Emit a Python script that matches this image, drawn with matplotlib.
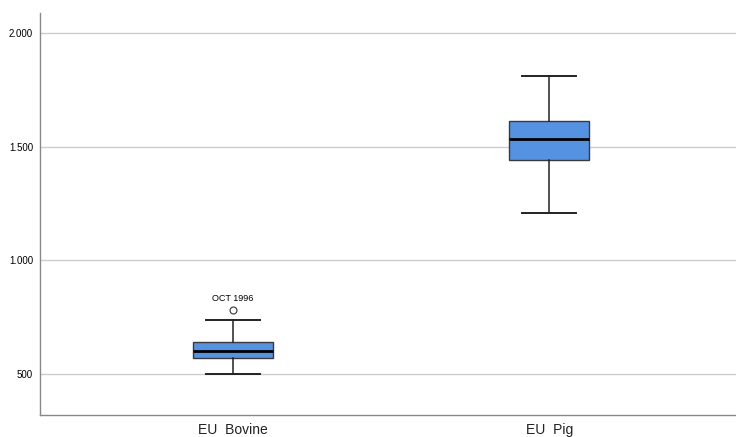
import matplotlib.pyplot as plt
import matplotlib.ticker as mticker

plt.rcParams['font.family'] = ['Liberation Sans', 'DejaVu Sans']

# summary stats per group
groups = ['EU  Bovine', 'EU  Pig']
whislo = [500, 1209]
q1 = [570, 1442]
med = [601, 1534]
q3 = [641, 1613]
whishi = [737, 1811]
fliers = [[781], []]
flier_labels = [['OCT 1996'], []]

stats = []
for i in range(len(groups)):
    stats.append({'label': groups[i], 'whislo': whislo[i], 'q1': q1[i], 'med': med[i],
                  'q3': q3[i], 'whishi': whishi[i], 'fliers': fliers[i]})

fig = plt.figure(figsize=(7.36, 4.37), dpi=100)
ax = fig.add_axes([0.0543, 0.0503, 0.9457, 0.9197])

pos = [1, 2]
bp = ax.bxp(stats, positions=pos, widths=0.253, patch_artist=True, showfliers=True,
            boxprops=dict(facecolor='#5592e2', edgecolor='#3a3a3a', linewidth=1.0),
            medianprops=dict(color='black', linewidth=2.0),
            whiskerprops=dict(color='#222222', linewidth=1.1),
            capprops=dict(color='#222222', linewidth=1.4),
            flierprops=dict(marker='o', markerfacecolor='white', markeredgecolor='#333333',
                            markersize=5, markeredgewidth=0.8),
            capwidths=0.17, zorder=3)

for p, vals, labs in zip(pos, fliers, flier_labels):
    for v, t in zip(vals, labs):
        ax.annotate(t, (p, v), xytext=(0, 5), textcoords='offset points',
                    ha='center', va='bottom', fontsize=6.5)

ax.set_xlim(0.39, 2.59)
ax.set_ylim(320, 2088)
ax.set_yticks([500, 1000, 1500, 2000])
ax.yaxis.set_major_formatter(mticker.FuncFormatter(lambda v, _: f'{int(v):,}'.replace(',', '.')))
ax.grid(axis='y', color='#cccccc', linewidth=1.0, zorder=0)
ax.set_axisbelow(True)

for s in ['top', 'right']:
    ax.spines[s].set_visible(False)
for s in ['left', 'bottom']:
    ax.spines[s].set_color('#888888')
    ax.spines[s].set_linewidth(1.0)

ax.tick_params(axis='y', length=0, labelsize=7, pad=5)
ax.tick_params(axis='x', length=0, labelsize=10, pad=6, labelcolor='#222222')

fig.savefig('out.png', dpi=100)
